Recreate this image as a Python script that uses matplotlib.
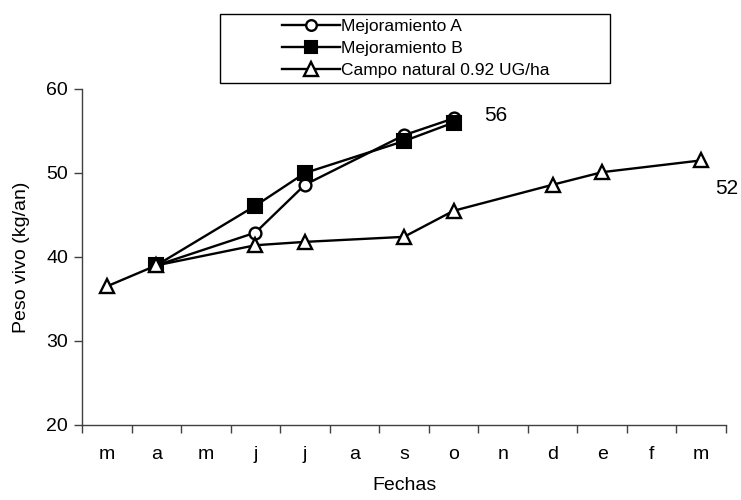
import matplotlib
matplotlib.use("Agg")
import matplotlib.pyplot as plt
from matplotlib.patches import Rectangle

plt.rcParams['font.family'] = ['Liberation Sans', 'DejaVu Sans']

months = ["m", "a", "m", "j", "j", "a", "s", "o", "n", "d", "e", "f", "m"]

# month index of each observation (points sit at the centre of the month)
mejA_idx = [1, 3, 4, 6, 7]
mejA_val = [39.0, 42.9, 48.6, 54.5, 56.5]

mejB_idx = [1, 3, 4, 6, 7]
mejB_val = [39.0, 46.1, 50.0, 53.8, 56.0]

campo_idx = [0, 1, 3, 4, 6, 7, 9, 10, 12]
campo_val = [36.5, 39.0, 41.4, 41.8, 42.4, 45.5, 48.6, 50.1, 51.5]

labels = ["Mejoramiento A", "Mejoramiento B", "Campo natural 0.92 UG/ha"]
end_labels = ["56", "52"]

fig = plt.figure(figsize=(7.41, 5.0), dpi=100)
ax = fig.add_axes([82/741, 1-425/500, (726-82)/741, (425-89)/500])

lw = 1.7
la, = ax.plot([i + 0.5 for i in mejA_idx], mejA_val, color='black', lw=lw,
              marker='o', ms=8.5, mfc='white', mec='black', mew=1.7, zorder=3)
lb, = ax.plot([i + 0.5 for i in mejB_idx], mejB_val, color='black', lw=lw,
              marker='s', ms=9.5, mfc='black', mec='black', mew=1.5, zorder=4)
lc, = ax.plot([i + 0.5 for i in campo_idx], campo_val, color='black', lw=lw,
              marker='^', ms=10.5, mfc='white', mec='black', mew=1.7, zorder=5)

ax.set_xlim(0, len(months))
ax.set_ylim(20, 60)
ax.set_yticks([20, 30, 40, 50, 60])
ax.set_xticks(range(len(months) + 1))
ax.set_xticklabels([])
ax.set_xticks([i + 0.5 for i in range(len(months))], minor=True)
ax.set_xticklabels(months, minor=True)
ax.tick_params(axis='x', which='minor', length=0, pad=15, labelsize=14)
ax.tick_params(axis='x', which='major', length=6, width=1, color='#404040', direction='out')
ax.tick_params(axis='y', length=6, width=1, color='#404040', direction='out', labelsize=14, pad=4)

for s in ['top', 'right']:
    ax.spines[s].set_visible(False)
for s in ['left', 'bottom']:
    ax.spines[s].set_color('#404040')
    ax.spines[s].set_linewidth(1)

ax.set_xlabel("Fechas", fontsize=14, labelpad=10)
ax.set_ylabel("Peso vivo (kg/an)", fontsize=14, labelpad=12)

ax.text(mejA_idx[-1] + 0.5 + 0.86, 56.9, end_labels[0], fontsize=15,
        ha='center', va='center', clip_on=False)
ax.text(campo_idx[-1] + 0.5 + 0.52, 48.1, end_labels[1], fontsize=15,
        ha='center', va='center', clip_on=False)

# legend box
fig.patches.append(Rectangle((220/741, 1-83/500), (610-220)/741, (83-14)/500,
                             transform=fig.transFigure, fill=False,
                             edgecolor='black', lw=1))
leg = fig.legend([la, lb, lc], labels, loc='center', bbox_to_anchor=(416/741, 1-48.5/500),
                 frameon=False, fontsize=12.5, handlelength=3.3, handletextpad=0.1,
                 labelspacing=0.38, borderpad=0, markerscale=0.9)

fig.savefig("out.png", dpi=100)
